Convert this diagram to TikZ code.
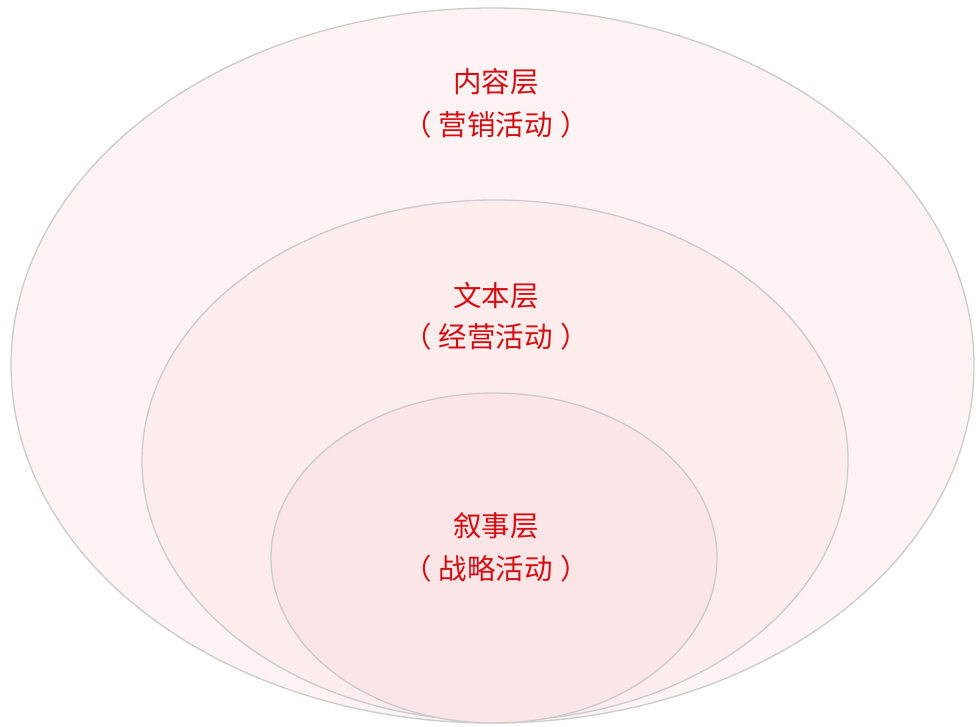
\documentclass[tikz,border=0pt]{standalone}
\usepackage{fontspec}
\setmainfont{Noto Sans CJK SC}
\definecolor{ringedge}{HTML}{CBCBCB}
\definecolor{outerfill}{HTML}{FDF3F3}
\definecolor{midfill}{HTML}{FCECEC}
\definecolor{innerfill}{HTML}{FBE5E6}
\definecolor{labelred}{HTML}{D40F14}
\newcommand{\pgap}{\hspace{7pt}}
\tikzset{
  ring/.style={draw=ringedge, line width=1.3pt},
  lbl/.style={text=labelred, font=\fontsize{28.5}{31}\selectfont, inner sep=0pt, anchor=center}
}
\begin{document}
\begin{tikzpicture}[x=1pt,y=-1pt]
\useasboundingbox (0,0) rectangle (976,727);
\fill[white] (0,0) rectangle (976,727);
\draw[ring, fill=outerfill] (492.5,365.5) ellipse [x radius=481.5pt, y radius=357.5pt];
\draw[ring, fill=midfill] (495,460.5) ellipse [x radius=353pt, y radius=260.5pt];
\draw[ring, fill=innerfill] (494,558) ellipse [x radius=223pt, y radius=165pt];
\node[lbl] (c1) at (496,82) {内容层};
\node[lbl] (c2) at (496,125) {（\pgap 营销活动\pgap ）};
\node[lbl] (t1) at (496,296) {文本层};
\node[lbl] (t2) at (496,337) {（\pgap 经营活动\pgap ）};
\node[lbl] (n1) at (496,526) {叙事层};
\node[lbl] (n2) at (496,569) {（\pgap 战略活动\pgap ）};
\end{tikzpicture}
\end{document}
